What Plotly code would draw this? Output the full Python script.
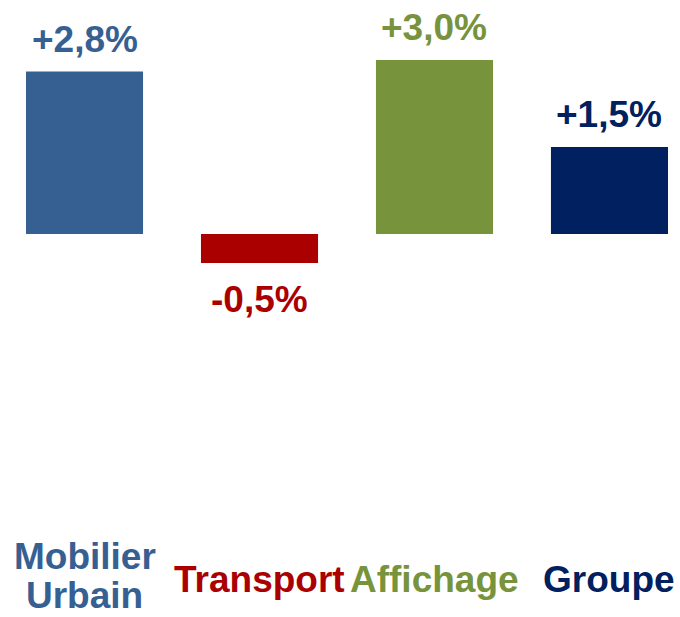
import plotly.graph_objects as go

categories = ["Mobilier Urbain", "Transport", "Affichage", "Groupe"]
values = [2.8, -0.5, 3.0, 1.5]
value_labels = ["+2,8%", "-0,5%", "+3,0%", "+1,5%"]
colors = ["#376092", "#AA0000", "#77933C", "#002060"]

FONT = "Liberation Sans, Arial, sans-serif"
H = 617

fig = go.Figure()
fig.add_trace(go.Bar(
    x=list(range(len(categories))),
    y=values,
    marker=dict(color=colors, line=dict(width=0)),
    width=0.669,
    hoverinfo="skip",
))

annotations = []
for i, (v, lab, c) in enumerate(zip(values, value_labels, colors)):
    annotations.append(dict(
        x=i, y=v, xref="x", yref="y", text="<b>%s</b>" % lab, showarrow=False,
        font=dict(family=FONT, size=37, color=c),
        yanchor="bottom" if v >= 0 else "top",
        yshift=10 if v >= 0 else -14,
    ))

# category labels, one annotation per text line (baseline pixel positions)
for i, (cat, c) in enumerate(zip(categories, colors)):
    words = cat.split(" ")
    if len(words) == 2:
        lines = [(words[0], 569.5), (words[1], 608.5)]
    else:
        lines = [(cat, 592.5)]
    for txt, base in lines:
        annotations.append(dict(
            x=i, y=1 - (base + 9.5) / H, xref="x", yref="paper",
            text="<b>%s</b>" % txt, showarrow=False,
            font=dict(family=FONT, size=37, color=c),
            yanchor="bottom",
        ))

fig.update_layout(
    width=680, height=H,
    margin=dict(l=0, r=0, t=0, b=0),
    paper_bgcolor="white", plot_bgcolor="white",
    showlegend=False,
    xaxis=dict(range=[-0.483, 3.403], visible=False, fixedrange=True),
    yaxis=dict(range=[-6.603, 4.034], visible=False, fixedrange=True, zeroline=False),
    annotations=annotations,
)

fig.write_html("out.html", config={"displayModeBar": False},
               post_script="document.body.style.margin='0';")
